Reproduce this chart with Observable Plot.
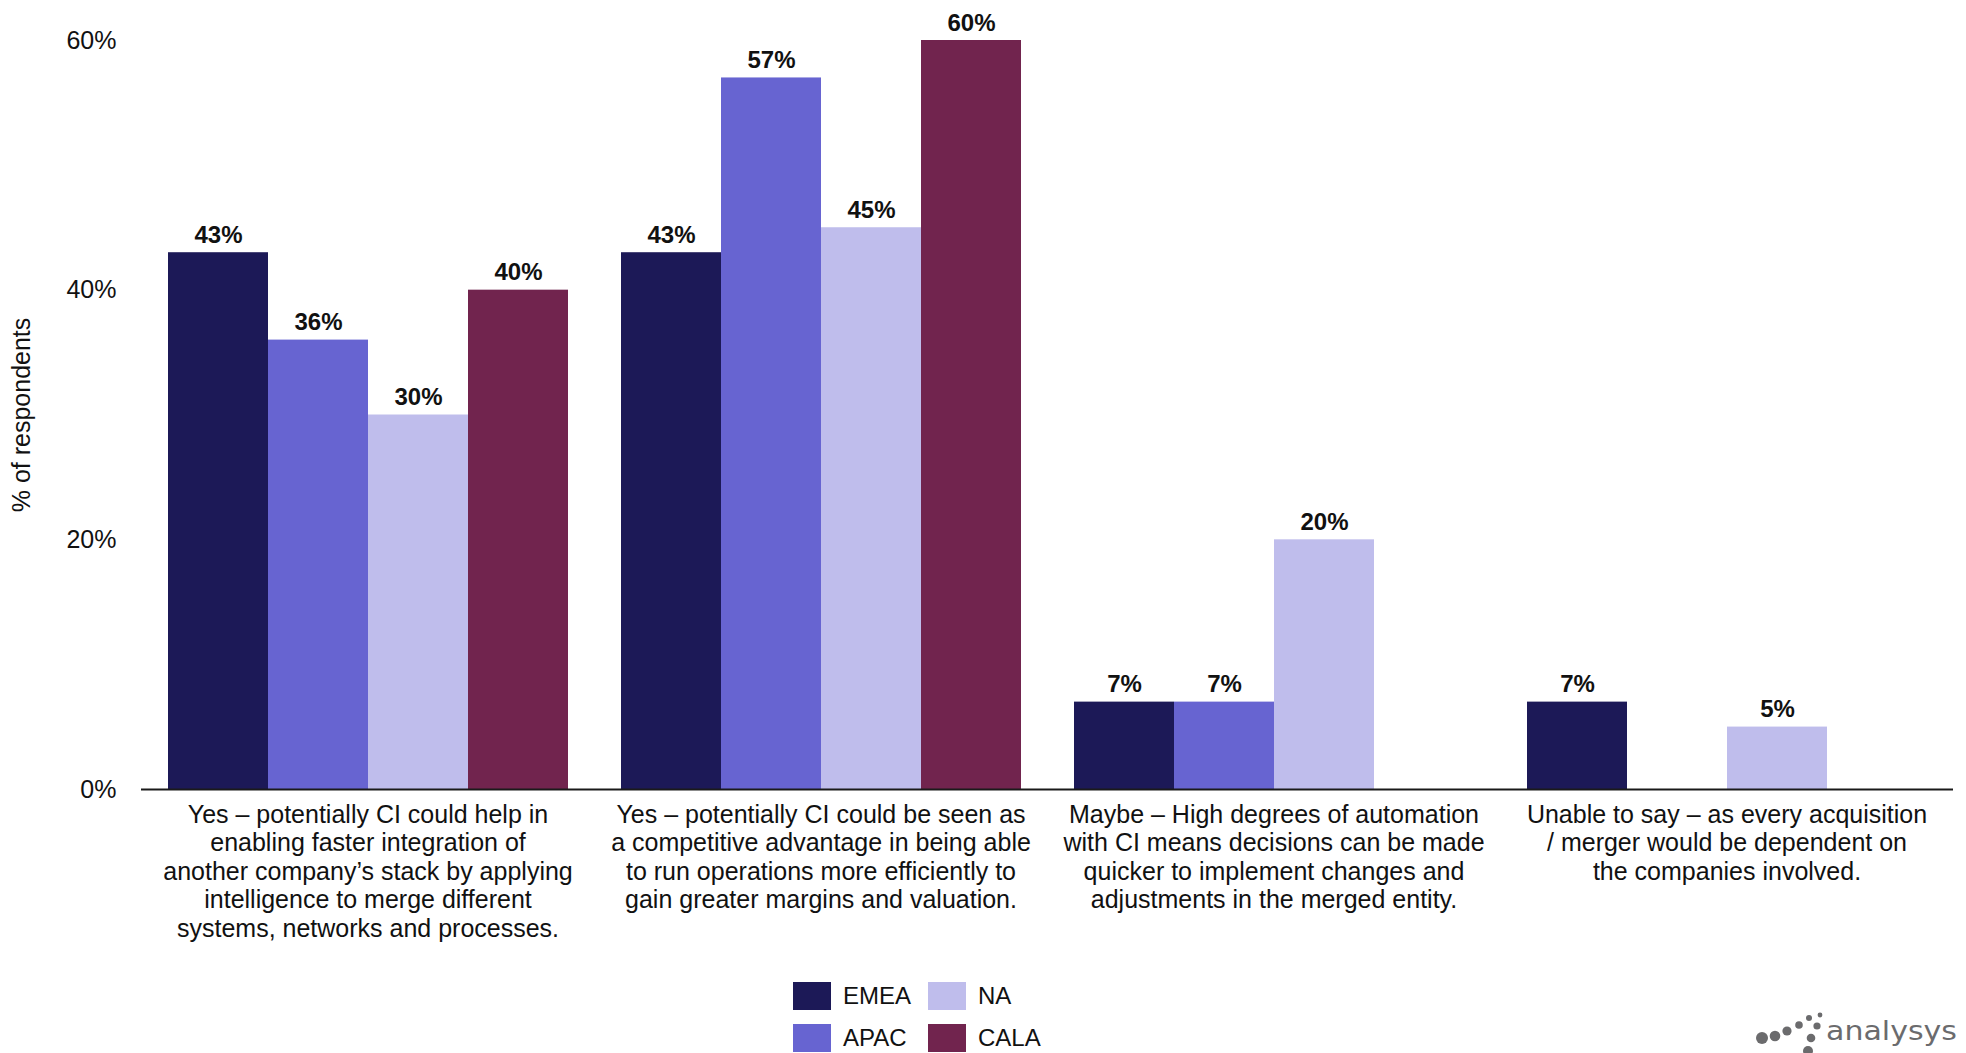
<!DOCTYPE html>
<html>
<head>
<meta charset="utf-8">
<script src="https://cdn.jsdelivr.net/npm/d3@7"></script>
<script src="https://cdn.jsdelivr.net/npm/@observablehq/plot@0.6"></script>
<style>
  html, body { margin: 0; padding: 0; background: #ffffff; }
  #wrap { position: relative; width: 1966px; height: 1053px; overflow: hidden;
          font-family: "Liberation Sans", Arial, sans-serif; color: #111; }
  #chart svg { display: block; }
  #legend { margin-left: 793px; margin-top: 17px; display: grid;
            grid-template-columns: 135px 140px; row-gap: 14px; }
  .item { display: flex; align-items: center; height: 28px; font-size: 24px; color: #111; }
  .sw { width: 38px; height: 28px; margin-right: 12px; flex: none; }
  #logo { position: absolute; left: 1740px; top: 993px; }
</style>
</head>
<body>
<div id="wrap">
  <div id="chart"></div>
  <div id="legend"></div>
  <svg id="logo" width="226" height="60" viewBox="1740 993 226 60">
    <g fill="#6b6b6d">
      <circle cx="1762" cy="1038" r="6"/>
      <circle cx="1775" cy="1036" r="5.3"/>
      <circle cx="1787" cy="1031" r="4.6"/>
      <circle cx="1799" cy="1025" r="3.8"/>
      <circle cx="1809" cy="1018" r="3"/>
      <circle cx="1820" cy="1015" r="2.4"/>
      <circle cx="1817" cy="1026" r="3.6"/>
      <circle cx="1811" cy="1038" r="4.3"/>
      <circle cx="1808" cy="1051" r="5"/>
      <text x="1826" y="1040" font-family="DejaVu Sans, sans-serif" font-size="27"
            textLength="131" lengthAdjust="spacingAndGlyphs">analysys</text>
    </g>
  </svg>
</div>
<script>
// Survey regions and their bar colours
const regions = ["EMEA", "APAC", "NA", "CALA"];
const regionColors = ["#1c1957", "#6764d1", "#bfbdec", "#71244e"];

// Answer options (axis labels, already broken into lines)
const answers = [
  "Yes – potentially CI could help in\nenabling faster integration of\nanother company’s stack by applying\nintelligence to merge different\nsystems, networks and processes.",
  "Yes – potentially CI could be seen as\na competitive advantage in being able\nto run operations more efficiently to\ngain greater margins and valuation.",
  "Maybe – High degrees of automation\nwith CI means decisions can be made\nquicker to implement changes and\nadjustments in the merged entity.",
  "Unable to say – as every acquisition\n/ merger would be dependent on\nthe companies involved."
];

// Share of respondents (%) per answer, one array per region; null = no response
const emea = [43, 43, 7, 7];
const apac = [36, 57, 7, null];
const na   = [30, 45, 20, 5];
const cala = [40, 60, null, null];

// Y axis ticks
const yTicks = [0, 20, 40, 60];

const seriesByRegion = {EMEA: emea, APAC: apac, NA: na, CALA: cala};
const rows = [];
answers.forEach((answer, i) => {
  regions.forEach(region => {
    const v = seriesByRegion[region][i];
    if (v != null) rows.push({answer, region, value: v});
  });
});

const font = "Liberation Sans, Arial, sans-serif";

const chart = Plot.plot({
  width: 1966,
  height: 965,
  marginTop: 40,
  marginBottom: 176,
  marginLeft: 140,
  marginRight: 12,
  style: {fontFamily: font, color: "#111", background: "#ffffff"},
  fx: {domain: answers, paddingInner: 0.11, paddingOuter: 0.055, label: null},
  x: {domain: regions, padding: 0, axis: null},
  y: {domain: [0, 60], label: "% of respondents"},
  color: {domain: regions, range: regionColors},
  marks: [
    Plot.barY(rows, {fx: "answer", x: "region", y: "value", fill: "region"}),
    Plot.text(rows, {
      fx: "answer", x: "region", y: "value",
      text: d => `${d.value}%`,
      lineAnchor: "bottom", dy: -10,
      fontSize: 24, fontWeight: "bold", fill: "#111"
    }),
    Plot.ruleY([0], {stroke: "#1a1a1a", strokeWidth: 2, insetLeft: -25, insetRight: -25}),
    // the axis sits in the first facet, which starts 25px right of the frame edge
    Plot.axisY({
      ticks: yTicks, tickFormat: d => `${d}%`, tickSize: 0, tickPadding: 50,
      fontSize: 25, label: "% of respondents", labelAnchor: "center",
      labelOffset: 154, labelArrow: "none"
    }),
    Plot.axisFx({
      anchor: "bottom", tickSize: 0, tickPadding: 13, fontSize: 25,
      lineHeight: 1.14, label: null
    })
  ]
});
document.getElementById("chart").appendChild(chart);

// Legend: 2 × 2 grid of swatches
const legend = document.getElementById("legend");
const legendOrder = ["EMEA", "NA", "APAC", "CALA"];
legendOrder.forEach(r => {
  const item = document.createElement("div");
  item.className = "item";
  const sw = document.createElement("span");
  sw.className = "sw";
  sw.style.background = regionColors[regions.indexOf(r)];
  item.appendChild(sw);
  item.appendChild(document.createTextNode(r));
  legend.appendChild(item);
});
</script>
</body>
</html>
